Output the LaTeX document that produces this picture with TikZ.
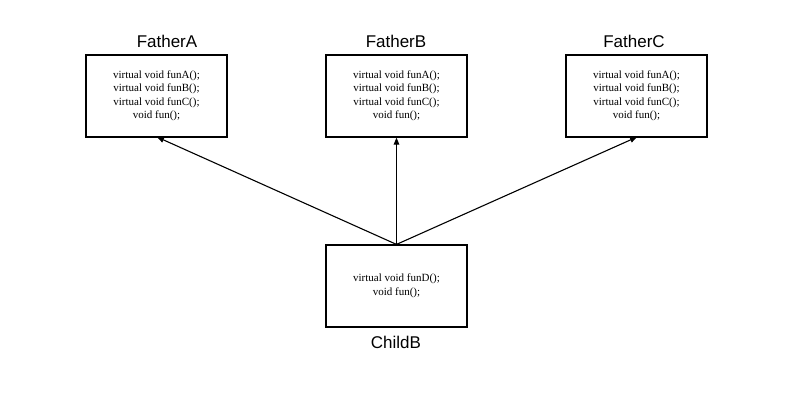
\documentclass[tikz,border=0pt]{standalone}
\usepackage{fontspec}
\setmainfont{Liberation Serif}
\newfontfamily\titlefont{Liberation Sans}
\usetikzlibrary{arrows.meta}
\begin{document}
\begin{tikzpicture}[x=1pt,y=-1pt,
  classbox/.style={draw=black,line width=1.2pt,minimum width=141pt,minimum height=82pt,inner sep=0pt,
     align=center,font=\fontsize{11}{13.5}\selectfont},
  title/.style={font=\titlefont\fontsize{17}{20}\selectfont,inner sep=0pt},
  inherit/.style={-{Triangle[length=7pt,width=5.5pt]},line width=1.1pt}]
\useasboundingbox[fill=white] (0,0) rectangle (800,400);
\node[classbox] (A) at (156.5,96) {virtual void funA();\\virtual void funB();\\virtual void funC();\\void fun();};
\node[classbox] (B) at (396.5,96) {virtual void funA();\\virtual void funB();\\virtual void funC();\\void fun();};
\node[classbox] (C) at (636.5,96) {virtual void funA();\\virtual void funB();\\virtual void funC();\\void fun();};
\node[classbox] (D) at (396.5,286) {virtual void funD();\\void fun();};
\node[title] (tA) at (167,41) {FatherA};
\node[title] (tB) at (396,41) {FatherB};
\node[title] (tC) at (634,41) {FatherC};
\node[title] (tD) at (396,342) {ChildB};
\coordinate (Atgt) at (157,137);
\coordinate (Ctgt) at (637,137);
\draw[inherit] (D.north) -- (Atgt);
\draw[inherit] (D.north) -- (B.south);
\draw[inherit] (D.north) -- (Ctgt);
\end{tikzpicture}
\end{document}
